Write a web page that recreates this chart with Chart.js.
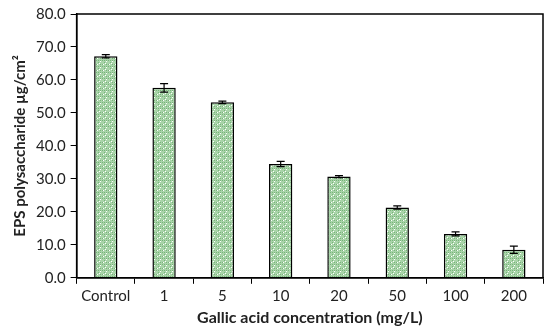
<!DOCTYPE html>
<html>
<head>
<meta charset="utf-8">
<script src="https://cdn.jsdelivr.net/npm/chart.js@4"></script>
<style>
  html, body { margin: 0; padding: 0; background: #fff; }
  #wrap { width: 550px; height: 333px; }
</style>
</head>
<body>
<div id="wrap"><canvas id="chart"></canvas></div>
<script>
const categories = ['Control', '1', '5', '10', '20', '50', '100', '200'];
const epsValues = [67.2, 57.6, 53.2, 34.5, 30.7, 21.3, 13.3, 8.5];
const epsErrors = [0.5, 1.3, 0.4, 0.8, 0.3, 0.5, 0.6, 1.1];

// dotted green fill like the original
function makePattern() {
  const p = document.createElement('canvas');
  p.width = 6; p.height = 6;
  const c = p.getContext('2d');
  c.fillStyle = '#a9d4a9';
  c.fillRect(0, 0, 6, 6);
  c.fillStyle = '#78b47a';
  c.fillRect(0, 0, 1, 1); c.fillRect(2, 2, 1, 1); c.fillRect(4, 4, 1, 1);
  c.fillRect(4, 0, 1, 1); c.fillRect(0, 4, 1, 1); c.fillRect(2, 0, 1, 1);
  c.fillStyle = '#ffffff';
  c.fillRect(1, 4, 1, 1); c.fillRect(4, 1, 1, 1); c.fillRect(3, 3, 1, 1);
  return c.createPattern(p, 'repeat');
}

const errorBars = {
  id: 'errorBars',
  afterDatasetsDraw(chart) {
    const ctx = chart.ctx;
    const meta = chart.getDatasetMeta(0);
    const y = chart.scales.y;
    ctx.save();
    ctx.strokeStyle = '#000';
    ctx.lineWidth = 1.2;
    meta.data.forEach((bar, i) => {
      const top = y.getPixelForValue(epsValues[i] + epsErrors[i]);
      const bot = y.getPixelForValue(epsValues[i] - epsErrors[i]);
      ctx.beginPath();
      ctx.moveTo(bar.x, top); ctx.lineTo(bar.x, bot);
      ctx.moveTo(bar.x - 4, top); ctx.lineTo(bar.x + 4, top);
      ctx.moveTo(bar.x - 4, bot); ctx.lineTo(bar.x + 4, bot);
      ctx.stroke();
    });
    ctx.restore();
  }
};

const frame = {
  id: 'frame',
  afterDraw(chart) {
    const a = chart.chartArea;
    const ctx = chart.ctx;
    ctx.save();
    ctx.strokeStyle = '#000';
    ctx.lineWidth = 1.5;
    ctx.strokeRect(a.left, a.top, a.right - a.left, a.bottom - a.top);
    ctx.restore();
  }
};

new Chart(document.getElementById('chart'), {
  type: 'bar',
  data: {
    labels: categories,
    datasets: [{
      data: epsValues,
      backgroundColor: makePattern(),
      borderColor: '#000',
      borderWidth: 1.5,
      categoryPercentage: 1,
      barPercentage: 0.4
    }]
  },
  options: {
    responsive: true,
    maintainAspectRatio: false,
    animation: false,
    layout: { padding: { top: 12, right: 7, left: 7, bottom: 4 } },
    plugins: { legend: { display: false }, tooltip: { enabled: false } },
    scales: {
      x: {
        grid: { drawOnChartArea: false, drawTicks: true, tickLength: 6, color: '#000', offset: true },
        border: { color: '#000', width: 1.5 },
        ticks: { color: '#222', font: { family: 'Lato', size: 15 }, padding: 3 },
        title: { display: true, text: 'Gallic acid concentration (mg/L)', color: '#222',
                 font: { family: 'Lato', size: 16, weight: 'bold' }, padding: { top: 0, bottom: 2 } }
      },
      y: {
        min: 0, max: 80,
        grid: { drawOnChartArea: false, drawTicks: true, tickLength: 6, color: '#000' },
        border: { color: '#000', width: 1.5 },
        ticks: { stepSize: 10, color: '#222', font: { family: 'Lato', size: 15 }, padding: 5,
                 callback: v => v.toFixed(1) },
        title: { display: true, text: 'EPS polysaccharide µg/cm²', color: '#222',
                 font: { family: 'Lato', size: 15, weight: 'bold' }, padding: { bottom: 2 } }
      }
    }
  },
  plugins: [errorBars, frame]
});
</script>
</body>
</html>
